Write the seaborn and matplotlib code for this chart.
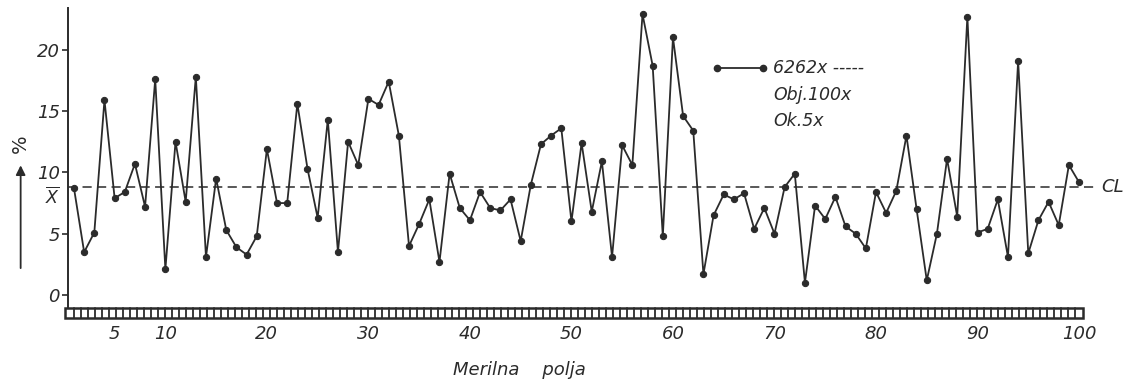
import numpy as np
import pandas as pd
import matplotlib
matplotlib.use("Agg")
import matplotlib.pyplot as plt
from matplotlib.patches import Rectangle
import seaborn as sns

# Measured share (%) per measuring field 1..100
field = list(range(1, 101))
share = [
    8.7, 3.5, 5.1, 15.9, 7.9, 8.4, 10.7, 7.2, 17.6, 2.1,
    12.5, 7.6, 17.8, 3.1, 9.5, 5.3, 3.9, 3.3, 4.8, 11.9,
    7.5, 7.5, 15.6, 10.3, 6.3, 14.3, 3.5, 12.5, 10.6, 16.0,
    15.5, 17.4, 13.0, 4.0, 5.8, 7.8, 2.7, 9.9, 7.1, 6.1,
    8.4, 7.1, 6.9, 7.8, 4.4, 9.0, 12.3, 13.0, 13.6, 6.0,
    12.4, 6.8, 10.9, 3.1, 12.2, 10.6, 22.9, 18.7, 4.8, 21.0,
    14.6, 13.4, 1.7, 6.5, 8.2, 7.8, 8.3, 5.4, 7.1, 5.0,
    8.8, 9.9, 1.0, 7.3, 6.2, 8.0, 5.6, 5.0, 3.8, 8.4,
    6.7, 8.5, 13.0, 7.0, 1.2, 5.0, 11.1, 6.4, 22.7, 5.1,
    5.4, 7.8, 3.1, 19.1, 3.4, 6.1, 7.6, 5.7, 10.6, 9.2,
]
center_line = 8.8
x_ticks = [5, 10, 20, 30, 40, 50, 60, 70, 80, 90, 100]
y_ticks = [0, 5, 10, 15, 20]
legend_lines = ["6262x -----", "Obj.100x", "Ok.5x"]

ink = "#2b2b2b"
sns.set_style("white")
plt.rcParams["font.family"] = ["DejaVu Sans"]

df = pd.DataFrame({"field": field, "share": share})

fig = plt.figure(figsize=(11.47, 3.87), dpi=100)
ax = fig.add_axes([0.0593, 0.1757, 0.8849, 0.8036])

sns.lineplot(data=df, x="field", y="share", ax=ax, color=ink, linewidth=1.3,
             marker="o", markersize=4.5, markeredgecolor=ink, markerfacecolor=ink)

x_lo, x_hi = 0.41, 100.39
ax.set_xlim(x_lo, x_hi)
ax.set_ylim(-1.95, 23.4)

# centre line, running past the frame to the CL label
ax.axhline(center_line, xmin=0, xmax=1.012, color=ink, lw=1.1,
           dashes=(6, 3.5), clip_on=False)
ax.text(1.018, center_line, "CL", transform=ax.get_yaxis_transform(),
        ha="left", va="center", fontsize=13, style="italic", color=ink)
ax.text(-0.008, center_line - 0.8, r"$\overline{X}$",
        transform=ax.get_yaxis_transform(), ha="right", va="center",
        fontsize=12.5, color=ink)

# film-strip style baseline
y0, y1 = -1.88, -1.06
ax.add_patch(Rectangle((x_lo - 0.3, y0), x_hi - x_lo + 0.3, y1 - y0,
                       facecolor="white", edgecolor=ink, lw=1.8, zorder=3,
                       clip_on=False))
for xv in np.arange(x_lo + 0.55, x_hi - 0.1, 0.69):
    ax.plot([xv, xv], [y0, y1], color=ink, lw=1.3, zorder=4)

for side in ["top", "right", "bottom"]:
    ax.spines[side].set_visible(False)
ax.spines["left"].set_color(ink)
ax.spines["left"].set_linewidth(1.4)
ax.spines["left"].set_bounds(-1.06, 23.4)

ax.set_xticks(x_ticks)
ax.set_xticklabels([str(t) for t in x_ticks], fontsize=13, style="italic", color=ink)
ax.set_yticks(y_ticks)
ax.set_yticklabels([str(t) for t in y_ticks], fontsize=13, style="italic", color=ink)
ax.tick_params(axis="x", length=0, pad=4)
ax.tick_params(axis="y", length=4, width=1.2, color=ink, direction="out", pad=2,
               left=True)
ax.set_xlabel("Merilna    polja", fontsize=13, style="italic", color=ink)
ax.xaxis.label.set_va("center")
ax.xaxis.set_label_coords(0.445, -0.164)
ax.set_ylabel("")

# y-axis label: % with an upward arrow
fig.text(0.018, 0.63, "%", rotation=90, fontsize=14, ha="center", va="center",
         color=ink)
ax.annotate("", xy=(0.018, 0.58), xytext=(0.018, 0.30),
            xycoords="figure fraction", textcoords="figure fraction",
            arrowprops=dict(arrowstyle="-|>", color=ink, lw=1.3,
                            mutation_scale=14))

# legend block
ax.plot([64.3, 68.9], [18.5, 18.5], color=ink, lw=1.3, marker="o",
        markersize=4.5, clip_on=False)
for i, txt in enumerate(legend_lines):
    ax.text(69.9, 18.5 - i * 2.15, txt, fontsize=12.5, style="italic",
            color=ink, ha="left", va="center")

fig.savefig("out.png", dpi=100)
